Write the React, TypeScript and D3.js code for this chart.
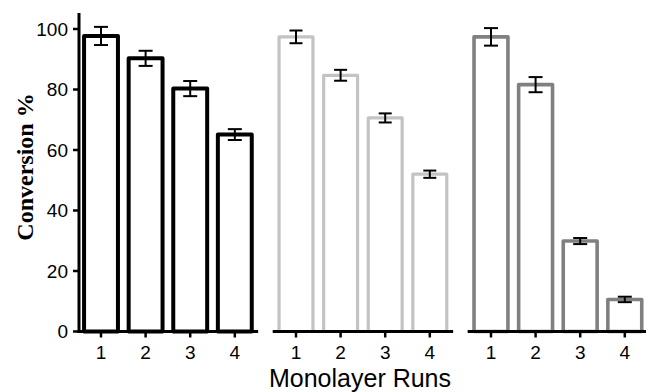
import React from 'react';
import * as d3 from 'd3';

// runs on the x axis, repeated in each of the three panels
const runs = ['1', '2', '3', '4'];
const panels = ['black', 'light', 'dark'];

// conversion % per run, one array per panel
const blackValues = [97.7, 90.3, 80.3, 65.1];
const blackErrors = [3.0, 2.5, 2.5, 1.8];
const lightValues = [97.4, 84.7, 70.6, 52.0];
const lightErrors = [2.1, 1.8, 1.5, 1.2];
const darkValues = [97.4, 81.6, 29.9, 10.6];
const darkErrors = [2.9, 2.5, 1.0, 0.9];

const yTicks = [0, 20, 40, 60, 80, 100];

const width = 646;
const height = 392;

const panelStyle = {
  black: { color: '#000000', strokeWidth: 4, cap: 14 },
  light: { color: '#c3c3c3', strokeWidth: 3.2, cap: 13 },
  dark: { color: '#808080', strokeWidth: 3.6, cap: 14 },
};

const series = {
  black: { values: blackValues, errors: blackErrors },
  light: { values: lightValues, errors: lightErrors },
  dark: { values: darkValues, errors: darkErrors },
};

export default function App() {
  const yScale = d3.scaleLinear().domain([0, 100]).range([331.5, 29]);
  const y0 = yScale(0);

  const xPanel = d3
    .scaleBand()
    .domain(panels)
    .range([78.7, 647.1])
    .paddingInner(0.085)
    .paddingOuter(0);

  const xRun = d3
    .scaleBand()
    .domain(runs)
    .range([0, xPanel.bandwidth()])
    .paddingInner(0.24)
    .paddingOuter(0.12);

  const axisLeft = 79;

  return (
    <svg
      width={width}
      height={height}
      style={{ position: 'absolute', left: 0, top: 0, background: '#fff' }}
      fontFamily="'Liberation Sans', Arial, sans-serif"
    >
      {/* bars + error bars */}
      {panels.map((p) => {
        const st = panelStyle[p];
        const { values, errors } = series[p];
        const px = xPanel(p);
        return (
          <g key={p} transform={`translate(${px},0)`}>
            {runs.map((r, i) => {
              const x = xRun(r);
              const cx = x + xRun.bandwidth() / 2;
              const v = values[i];
              const e = errors[i];
              return (
                <g key={r}>
                  <rect
                    x={x}
                    y={yScale(v)}
                    width={xRun.bandwidth()}
                    height={y0 - yScale(v)}
                    fill="#fff"
                    stroke={st.color}
                    strokeWidth={st.strokeWidth}
                    strokeLinejoin="round"
                  />
                  <g stroke="#000" strokeWidth={2}>
                    <line x1={cx} x2={cx} y1={yScale(v + e)} y2={yScale(v - e)} />
                    <line x1={cx - st.cap / 2} x2={cx + st.cap / 2} y1={yScale(v + e)} y2={yScale(v + e)} />
                    <line x1={cx - st.cap / 2} x2={cx + st.cap / 2} y1={yScale(v - e)} y2={yScale(v - e)} />
                  </g>
                </g>
              );
            })}
            {/* x axis segment for this panel */}
            <line
              x1={p === 'black' ? -1 : -1}
              x2={xPanel.bandwidth() + 1}
              y1={y0}
              y2={y0}
              stroke="#000"
              strokeWidth={3}
            />
            {runs.map((r) => {
              const cx = xRun(r) + xRun.bandwidth() / 2;
              return (
                <g key={'t' + r}>
                  <line x1={cx} x2={cx} y1={y0} y2={y0 + 6} stroke="#000" strokeWidth={2.5} />
                  <text x={cx} y={359} textAnchor="middle" fontSize={19} fill="#000">
                    {r}
                  </text>
                </g>
              );
            })}
          </g>
        );
      })}

      {/* y axis */}
      <line x1={axisLeft} x2={axisLeft} y1={13} y2={y0 + 1.5} stroke="#000" strokeWidth={3} />
      {yTicks.map((t) => (
        <g key={t}>
          <line x1={axisLeft - 6} x2={axisLeft} y1={yScale(t)} y2={yScale(t)} stroke="#000" strokeWidth={2.5} />
          <text x={68} y={yScale(t)} dy="0.36em" textAnchor="end" fontSize={19} fill="#000">
            {t}
          </text>
        </g>
      ))}

      {/* axis titles */}
      <text
        transform="translate(33,167) rotate(-90)"
        textAnchor="middle"
        fontFamily="'Liberation Serif', 'Times New Roman', serif"
        fontWeight="bold"
        fontSize={24}
        fill="#000"
      >
        Conversion %
      </text>
      <text x={360} y={386.5} textAnchor="middle" fontSize={25} fill="#000">
        Monolayer Runs
      </text>
    </svg>
  );
}
